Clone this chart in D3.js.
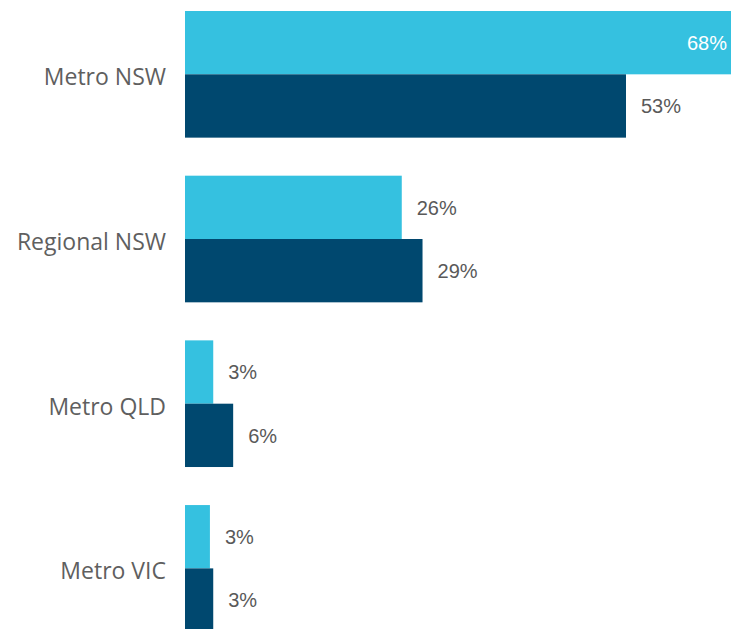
<!DOCTYPE html>
<html>
<head>
<meta charset="utf-8">
<script src="https://cdn.jsdelivr.net/npm/d3@7"></script>
<style>
    body { margin: 0; background: #fff; }
    svg { display: block; }
</style>
</head>
<body>
<div id="chart"></div>
<script>
// grouped horizontal bars, two series per region

const regions = ["Metro NSW", "Regional NSW", "Metro QLD", "Metro VIC"];
const seriesLight = [68, 26.1, 3.4, 3.0];
const seriesDark = [53.1, 28.6, 5.8, 3.4];
const seriesKeys = ["light", "dark"];

const colorCodes = {
    light: "#35c1e0",
    dark: "#00486f"
};

const width = 731,
    height = 629;

let svg = d3.select("#chart").
append("svg").
attr("width", width).
attr("height", height);

let xScale = d3.scaleLinear().
domain([0, 100]).
range([185, 185 + 830.5]);

let yScale = d3.scaleBand().
domain(regions).
range([11, 631.7]).
paddingInner(0.231).
paddingOuter(0);

let ySub = d3.scaleBand().
domain(seriesKeys).
range([0, yScale.bandwidth()]);

let rows = regions.map((r, i) => ({
    region: r,
    values: [
        { key: "light", value: seriesLight[i] },
        { key: "dark", value: seriesDark[i] }
    ]
}));

let group = svg.selectAll(".group").
data(rows).
enter().
append("g").
attr("class", "group").
attr("transform", d => "translate(0," + yScale(d.region) + ")");

group.selectAll("rect").
data(d => d.values).
enter().
append("rect").
attr("x", xScale(0)).
attr("y", d => ySub(d.key)).
attr("width", d => xScale(d.value) - xScale(0)).
attr("height", ySub.bandwidth()).
style("fill", d => colorCodes[d.key]);

// value labels: inside the bar when it runs off the edge
let inside = d => xScale(d.value) > width - 40;

group.selectAll(".value").
data(d => d.values).
enter().
append("text").
attr("class", "value").
attr("x", d => inside(d) ? width - 4 : xScale(d.value) + 15).
attr("y", d => ySub(d.key) + ySub.bandwidth() / 2).
attr("dy", "0.36em").
attr("text-anchor", d => inside(d) ? "end" : "start").
style("font-family", "'Liberation Sans', Arial, sans-serif").
style("font-size", "20px").
style("fill", d => inside(d) ? "#ffffff" : "#595959").
text(d => Math.round(d.value) + "%");

// category labels
group.append("text").
attr("x", 166).
attr("y", yScale.bandwidth() / 2).
attr("dy", 11).
attr("text-anchor", "end").
style("font-family", "'Open Sans', 'Noto Sans', sans-serif").
style("font-size", "23px").
style("fill", "#5f5f5f").
text(d => d.region);
</script>
</body>
</html>
